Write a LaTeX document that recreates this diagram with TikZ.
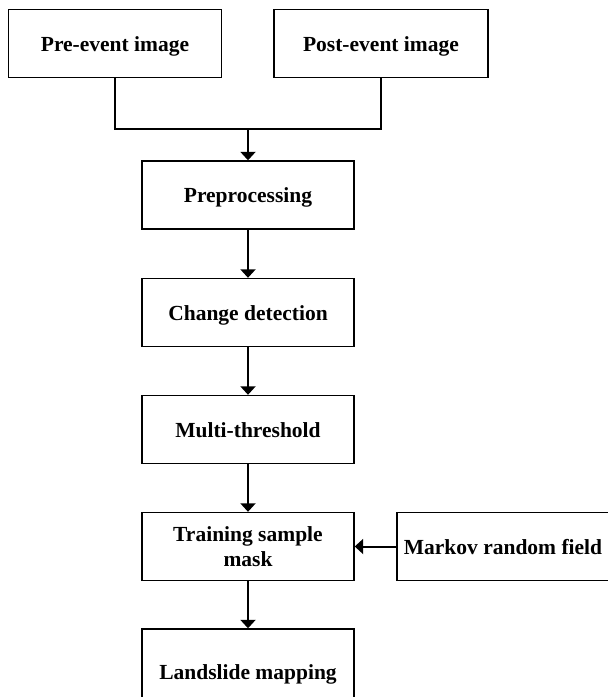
\documentclass[tikz,border=0pt]{standalone}
\usepackage{fontspec}
\setmainfont{Liberation Serif}
\usepackage{tikz}
\usetikzlibrary{positioning,arrows.meta,calc}

\tikzset{
  procbox/.style={draw, line width=1.4pt, minimum width=212pt, minimum height=68pt,
    inner sep=0pt, font=\fontsize{21.5}{25}\selectfont\bfseries,
    text height=15pt, text depth=0pt, align=center},
  flow/.style={line width=2pt, -{Triangle[width=15pt,length=8.5pt]}}
}

\begin{document}
\begin{tikzpicture}[x=1pt,y=-1pt]
\useasboundingbox (0,0) rectangle (608,697);
\node[procbox, minimum width=213pt] (pre) at (115,43.5) {Pre-event image};
\node[procbox, minimum width=214pt] (post) at (381,43.5) {Post-event image};
\node[procbox] (prep) at (248,195) {Preprocessing};
\node[procbox] (change) at (248,312.5) {Change detection};
\node[procbox] (thresh) at (248,429.5) {Multi-threshold};
\node[procbox, text height=, text depth=] (train) at (248,546.5) {Training sample\\mask};
\node[procbox] (mrf) at (503,546.5) {Markov random field};
\node[procbox, minimum height=86pt] (land) at (248,672) {Landslide mapping};
\coordinate (join) at (248,129);
% merge of the two images
\draw[line width=2pt] (pre.south) -- (pre.south |- join) -- (post.south |- join) -- (post.south);
\draw[flow] (join) -- (prep);
\draw[flow] (prep) -- (change);
\draw[flow] (change) -- (thresh);
\draw[flow] (thresh) -- (train);
\draw[flow] (mrf) -- (train);
\draw[flow] (train) -- (land);
\end{tikzpicture}
\end{document}
